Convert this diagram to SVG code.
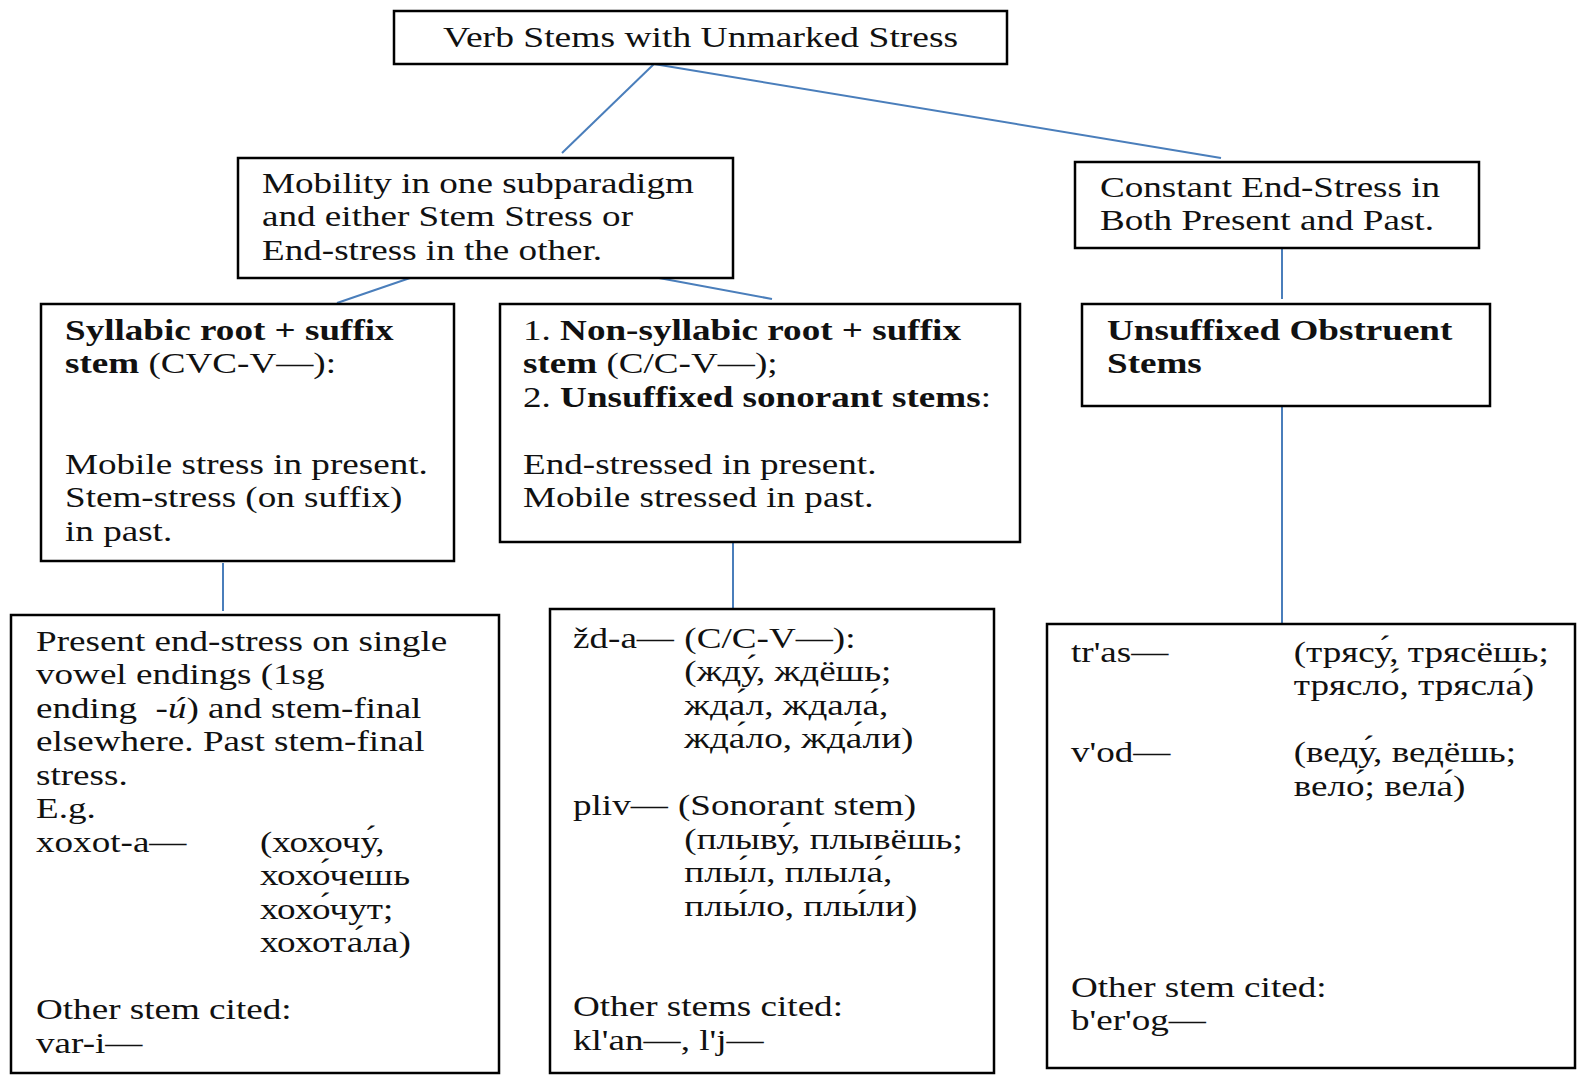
<svg xmlns="http://www.w3.org/2000/svg" width="1577" height="1075" viewBox="0 0 1577 1075">
<style>
  rect.box { fill: #ffffff; stroke: #000000; stroke-width: 2.5; }
  text { font-family: "Liberation Serif", "Times New Roman", serif; font-size: 29px; fill: #111111; white-space: pre; }
  .b { font-weight: bold; }
  .i { font-style: italic; }
  #connectors line { stroke: #4a7ebb; stroke-width: 2; }
</style>
<rect width="1577" height="1075" fill="#ffffff"/>
<g id="connectors">
  <line x1="654" y1="64" x2="562" y2="153"/>
  <line x1="654" y1="64" x2="1221" y2="158"/>
  <line x1="410" y1="278" x2="337" y2="303"/>
  <line x1="659" y1="278" x2="772" y2="299"/>
  <line x1="1282" y1="249" x2="1282" y2="299"/>
  <line x1="223" y1="563" x2="223" y2="611"/>
  <line x1="733" y1="543" x2="733" y2="609"/>
  <line x1="1282" y1="401" x2="1282" y2="624"/>
</g>
<g id="root">
  <rect class="box" x="394" y="11" width="613" height="53"/>
  <g transform="translate(443,47) scale(1.295,1)"><text x="0" y="0">Verb Stems with Unmarked Stress</text></g>
</g>
<g id="mobility">
  <rect class="box" x="238" y="158" width="495" height="120"/>
  <g transform="translate(262,193) scale(1.28,1)"><text>
    <tspan x="0" y="0">Mobility in one subparadigm</tspan>
    <tspan x="0" y="33.5">and either Stem Stress or</tspan>
    <tspan x="0" y="67">End-stress in the other.</tspan>
  </text></g>
</g>
<g id="constant">
  <rect class="box" x="1075" y="162" width="404" height="86"/>
  <g transform="translate(1100,197) scale(1.28,1)"><text>
    <tspan x="0" y="0">Constant End-Stress in</tspan>
    <tspan x="0" y="33.5">Both Present and Past.</tspan>
  </text></g>
</g>
<g id="syllabic">
  <rect class="box" x="41" y="304" width="413" height="257"/>
  <g transform="translate(65,340) scale(1.28,1)"><text>
    <tspan x="0" y="0" class="b">Syllabic root + suffix</tspan>
    <tspan x="0" y="33.5"><tspan class="b">stem</tspan> (CVC-V—):</tspan>
    <tspan x="0" y="134">Mobile stress in present.</tspan>
    <tspan x="0" y="167.5">Stem-stress (on suffix)</tspan>
    <tspan x="0" y="201">in past.</tspan>
  </text></g>
</g>
<g id="nonsyllabic">
  <rect class="box" x="500" y="304" width="520" height="238"/>
  <g transform="translate(523,340) scale(1.28,1)"><text>
    <tspan x="0" y="0">1. <tspan class="b">Non-syllabic root + suffix</tspan></tspan>
    <tspan x="0" y="33.5"><tspan class="b">stem</tspan> (C/C-V—);</tspan>
    <tspan x="0" y="67">2. <tspan class="b">Unsuffixed sonorant stems</tspan>:</tspan>
    <tspan x="0" y="134">End-stressed in present.</tspan>
    <tspan x="0" y="167.5">Mobile stressed in past.</tspan>
  </text></g>
</g>
<g id="obstruent">
  <rect class="box" x="1082" y="304" width="408" height="102"/>
  <g transform="translate(1107,340) scale(1.28,1)"><text class="b">
    <tspan x="0" y="0">Unsuffixed Obstruent</tspan>
    <tspan x="0" y="33.5">Stems</tspan>
  </text></g>
</g>
<g id="examples-left">
  <rect class="box" x="11" y="615" width="488" height="458"/>
  <g transform="translate(36,651) scale(1.28,1)"><text>
    <tspan x="0" y="0">Present end-stress on single</tspan>
    <tspan x="0" y="33.5">vowel endings (1sg</tspan>
    <tspan x="0" y="67">ending  <tspan class="i">-ú</tspan>) and stem-final</tspan>
    <tspan x="0" y="100.5">elsewhere. Past stem-final</tspan>
    <tspan x="0" y="134">stress.</tspan>
    <tspan x="0" y="167.5">E.g.</tspan>
    <tspan x="0" y="201">xoxot-a—</tspan>
    <tspan x="175" y="201">(хохочу́,</tspan>
    <tspan x="175" y="234.5">хохо́чешь</tspan>
    <tspan x="175" y="268">хохо́чут;</tspan>
    <tspan x="175" y="301.5">хохота́ла)</tspan>
    <tspan x="0" y="368.5">Other stem cited:</tspan>
    <tspan x="0" y="402">var-i—</tspan>
  </text></g>
</g>
<g id="examples-middle">
  <rect class="box" x="550" y="609" width="444" height="464"/>
  <g transform="translate(573,648) scale(1.28,1)"><text>
    <tspan x="0" y="0">žd-a—</tspan>
    <tspan x="87" y="0">(C/C-V—):</tspan>
    <tspan x="87" y="33.5">(жду́, ждёшь;</tspan>
    <tspan x="87" y="67">жда́л, ждала́,</tspan>
    <tspan x="87" y="100.5">жда́ло, жда́ли)</tspan>
    <tspan x="0" y="167.5">pliv—</tspan>
    <tspan x="82" y="167.5">(Sonorant stem)</tspan>
    <tspan x="87" y="201">(плыву́, плывёшь;</tspan>
    <tspan x="87" y="234.5">плы́л, плыла́,</tspan>
    <tspan x="87" y="268">плы́ло, плы́ли)</tspan>
    <tspan x="0" y="368.5">Other stems cited:</tspan>
    <tspan x="0" y="402">kl'an—, l'j—</tspan>
  </text></g>
</g>
<g id="examples-right">
  <rect class="box" x="1047" y="624" width="528" height="444"/>
  <g transform="translate(1071,662) scale(1.28,1)"><text>
    <tspan x="0" y="0">tr'as—</tspan>
    <tspan x="174" y="0">(трясу́, трясёшь;</tspan>
    <tspan x="174" y="33.5">трясло́, трясла́)</tspan>
    <tspan x="0" y="100.5">v'od—</tspan>
    <tspan x="174" y="100.5">(веду́, ведёшь;</tspan>
    <tspan x="174" y="134">вело́; вела́)</tspan>
    <tspan x="0" y="335">Other stem cited:</tspan>
    <tspan x="0" y="368.5">b'er'og—</tspan>
  </text></g>
</g>
</svg>
